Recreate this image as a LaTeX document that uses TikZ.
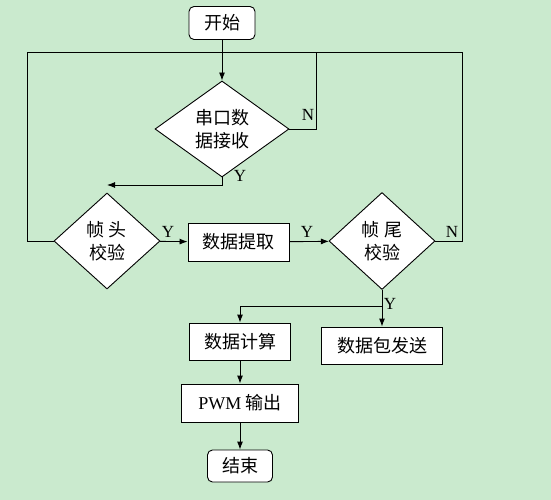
\documentclass[tikz,border=0pt]{standalone}
\usepackage{fontspec}
\setmainfont{Liberation Serif}
\newfontfamily\cjk{Noto Sans CJK SC}
\usetikzlibrary{shapes.geometric,arrows.meta}
\definecolor{bggreen}{RGB}{202,234,206}

\begin{document}
\begin{tikzpicture}[>={Latex[length=8pt,width=6pt]},x=1pt,y=-1pt,line width=0.9pt,
  box/.style={draw,fill=white,inner sep=0pt,align=center,
    font=\cjk\fontsize{18}{23}\selectfont},
  termbox/.style={box,rounded corners=5pt},
  decision/.style={box,diamond},
  yn/.style={font=\fontsize{17}{20}\selectfont},
  ]

  \fill[bggreen] (0,0) rectangle (551,500);
  \useasboundingbox (0,0) rectangle (551,500);

  % nodes
  \node[termbox,minimum width=66pt,minimum height=33pt] (start) at (222,23) {开始};
  \node[decision,minimum width=134pt,minimum height=96pt] (recv) at (222,129) {串口数\\据接收};
  \node[decision,minimum width=106pt,minimum height=96pt] (head) at (107,241) {帧 头\\校验};
  \node[box,minimum width=101pt,minimum height=38pt] (extract) at (238.5,242) {数据提取};
  \node[decision,minimum width=106pt,minimum height=97pt] (tail) at (382,241) {帧 尾\\校验};
  \node[box,minimum width=101pt,minimum height=37pt] (calc) at (240,341.5) {数据计算};
  \node[box,minimum width=121pt,minimum height=37pt] (send) at (382,345.5) {数据包发送};
  \node[box,minimum width=117pt,minimum height=38pt] (pwm) at (240,403) {{\rmfamily PWM} 输出};
  \node[termbox,minimum width=65pt,minimum height=32pt] (finish) at (240,466) {结束};

  \coordinate (loopL) at (27,52);
  \coordinate (loopM) at (316,52);
  \coordinate (loopR) at (462,52);
  \coordinate (joinH) at (107,185);
  \coordinate (joinT) at (382,306);

  % connectors
  \draw[->] (start) -- (recv);
  \draw (recv.east) -| (loopM);
  \draw (head.west) -| (loopL) -- (loopR) |- (tail.east);
  \draw[->] (recv.south) |- (joinH);
  \draw[->] (head) -- (extract);
  \draw[->] (extract) -- (tail);
  \draw[->] (tail.south) -- (send.north);
  \draw[->] (joinT) -| (calc.north);
  \draw[->] (calc) -- (pwm);
  \draw[->] (pwm) -- (finish);

  % labels
  \node[yn] (yRecv) at (240,176) {Y};
  \node[yn] (nRecv) at (308,115) {N};
  \node[yn] (yHead) at (168,232) {Y};
  \node[yn] (yExtract) at (307,232) {Y};
  \node[yn] (nTail) at (452,232) {N};
  \node[yn] (yTail) at (390,304) {Y};

\end{tikzpicture}
\end{document}
